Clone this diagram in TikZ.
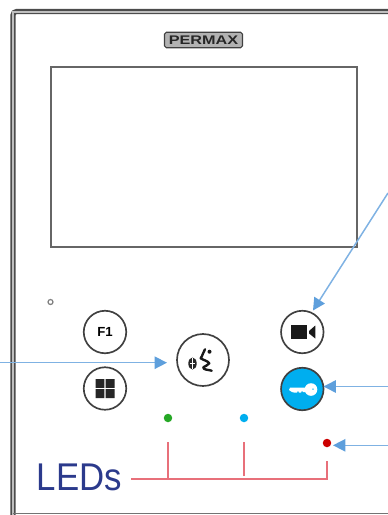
\documentclass[tikz,border=0pt]{standalone}
\usepackage{fontspec}
\setmainfont{Liberation Sans}
\usetikzlibrary{arrows.meta}
\definecolor{arrowblue}{HTML}{7FB2E3}
\definecolor{headblue}{HTML}{5E9FDC}
\definecolor{ledred}{HTML}{E8707A}
\definecolor{keycyan}{HTML}{00AEEF}
\definecolor{ledtext}{HTML}{2B3A8C}
\tikzset{
  x=0.02cm,y=-0.02cm,
  btn/.style={circle,draw=black!75,line width=0.95pt,fill=white,inner sep=0pt,minimum size=0.85cm},
  led/.style={circle,inner sep=0pt,minimum size=0.17cm},
  callout/.style={draw=arrowblue,line width=0.85pt,-{Triangle[length=7pt,width=7pt,color=headblue]}},
  ledline/.style={draw=ledred,line width=0.9pt},
}
\begin{document}
\begin{tikzpicture}
\useasboundingbox (0,0) rectangle (388,515);
% housing
\draw[black!70,line width=2.9pt,rounded corners=2pt] (13,515) -- (13,11.5) -- (388,11.5);
\draw[black!25,line width=0.7pt] (13,515) -- (13,12) -- (388,12);
\draw[black!55,line width=1.1pt] (13,513.5) -- (388,513.5);
% logo
\node[draw=black!75,fill=black!30,rounded corners=1pt,line width=0.6pt,minimum width=1.56cm,minimum height=0.31cm,inner sep=0pt,font=\bfseries\fontsize{7.1}{8}\selectfont,text=black!85] (logo) at (203.5,40) {\scalebox{1.3}[1]{PERMAX}};
% screen
\node[draw=black!60,line width=0.9pt,minimum width=6.12cm,minimum height=3.6cm,inner sep=0pt] (screen) at (204,157) {};
\node[draw=black!50,circle,line width=0.7pt,inner sep=0pt,minimum size=0.1cm] (mic) at (50.5,302) {};
% buttons
\node[btn,font=\bfseries\fontsize{7.5}{8}\selectfont] (f1) at (105,332) {F1};
\node[btn] (grid) at (105,388.5) {};
\node[btn,minimum size=1.04cm] (talk) at (203,360) {};
\node[btn] (video) at (302.3,332) {};
\node[btn,fill=keycyan] (key) at (302.3,389) {};
% grid icon
\fill[black!85] (95.5,379) rectangle (104.3,387.8) (105.7,379) rectangle (114.5,387.8)
                (95.5,389.2) rectangle (104.3,398) (105.7,389.2) rectangle (114.5,398);
% video icon
\fill[black!90] (291.3,325) rectangle (307.3,339.3);
\fill[black!90] (309,331) -- (315.3,325.5) -- (315.3,338.5) -- (309,333.5) -- cycle;
% key icon
\fill[white] (290,387.7) -- (306,387.7) -- (306,392) -- (303,392) -- (302,390.7) -- (301,392.5) -- (299,392.5) -- (298,390.7) -- (297,392.5) -- (294,392.5) -- (292,392) -- (289,390) -- cycle;
\fill[white,even odd rule] (311,389.5) circle (6.3) (313,389) circle (1);
% talk icon
\fill[black!85] (192.5,363.5) ellipse (4.2 and 6);
\draw[white,line width=0.4pt] (192.5,358) -- (192.5,369) (189.8,363.5) -- (195,363.5);
\draw[black!90,line width=1.35pt,line cap=round,line join=round]
  (205,349.3) .. controls (203,352) and (203,355) .. (200.7,358.3)
  .. controls (203,360) and (208,361) .. (209.3,363.3)
  .. controls (208.5,365) and (205,366) .. (203.3,367.3)
  .. controls (203,370) and (208,369.5) .. (211.7,370.7);
\fill[black!90] (209.5,351.7) circle (2);
% LEDs
\node[led,fill=green!60!black!85] (ledg) at (168,418) {};
\node[led,fill=keycyan] (ledb) at (244,418) {};
\node[led,fill=red!80!black] (ledr) at (327,443) {};
\node[text=ledtext,font=\fontsize{22}{26}\selectfont,inner sep=0pt] (ledlabel) at (79.5,477) {\scalebox{0.9}[1]{LEDs}};
\coordinate (j0) at (131,479);
\coordinate (jg) at (168,479);
\coordinate (tg) at (168,442);
\coordinate (jb) at (244,476);
\coordinate (tb) at (244,442);
\coordinate (jr) at (327,479);
\coordinate (tr) at (327,461);
\draw[ledline] (j0) -- (jr) -- (tr);
\draw[ledline] (jg) -- (tg);
\draw[ledline] (jb) -- (tb);
% callouts
\coordinate (a1) at (0,362.7);
\coordinate (a1e) at (167,362.7);
\draw[callout] (a1) -- (a1e);
\coordinate (a2) at (388,193);
\coordinate (a2e) at (313,310.5);
\draw[callout] (a2) -- (a2e);
\coordinate (a3) at (388,386.5);
\coordinate (a3e) at (323.5,386.5);
\draw[callout] (a3) -- (a3e);
\coordinate (a4) at (388,445.3);
\coordinate (a4e) at (333,445.3);
\draw[callout] (a4) -- (a4e);
\end{tikzpicture}
\end{document}
